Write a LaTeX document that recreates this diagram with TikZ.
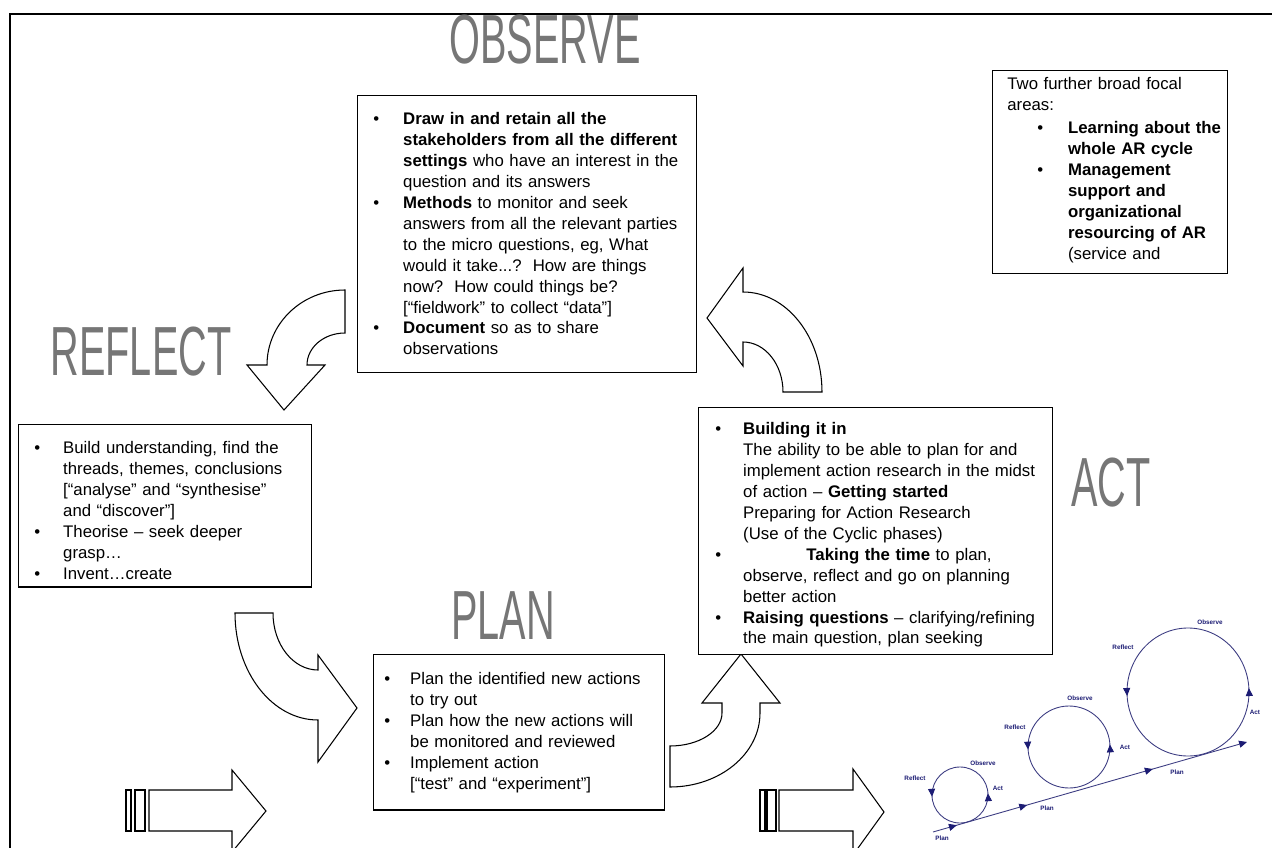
\documentclass[tikz,border=0pt]{standalone}
\usepackage{fontspec}
\setmainfont{Liberation Sans}
\newfontfamily\titlefont[FakeStretch=0.57]{Liberation Sans}
\usetikzlibrary{arrows.meta,decorations.markings}
\definecolor{cyclenavy}{HTML}{1C1C74}
\definecolor{cycleline}{HTML}{3C3C82}
\definecolor{titlegray}{HTML}{767676}
\newdimen\pxu \pxu=0.5669pt
% bullet list: #1 bullet centre, #2 text start (px from node edge)
\newenvironment{panellist}[2]{%
  \begin{list}{\textbullet}{%
    \setlength{\leftmargin}{#2\pxu}%
    \setlength{\labelwidth}{3.4pt}%
    \setlength{\labelsep}{\dimexpr #2\pxu-#1\pxu-1.7pt\relax}%
    \setlength{\itemsep}{0pt}\setlength{\parsep}{0pt}%
    \setlength{\topsep}{0pt}\setlength{\partopsep}{0pt}%
    \setlength{\itemindent}{0pt}\setlength{\rightmargin}{0pt}}}%
  {\end{list}}

\begin{document}
\begin{tikzpicture}[x=0.02cm,y=-0.02cm,
    font=\fontsize{9.55}{11.9}\selectfont,
    panel/.style={draw=black,line width=0.7pt,fill=white,inner sep=0pt,anchor=north west},
    paneltext/.style={inner sep=0pt,anchor=base west,align=left,text=black},
    phase/.style={font=\titlefont\fontsize{39.6}{40}\selectfont,text=titlegray,inner sep=0pt},
    bentarrow/.style={draw=black,line width=0.6pt,fill=white},
    blockarrow/.style={draw=black,line width=0.6pt,fill=white},
    ring/.style={draw=cycleline,line width=0.5pt,postaction={decorate},
      decoration={markings,
        mark=at position 0.01 with {\arrow{Triangle[length=4.5pt,width=4pt,color=cyclenavy]}},
        mark=at position 0.51 with {\arrow{Triangle[length=4.5pt,width=4pt,color=cyclenavy]}}}},
    planline/.style={draw=cycleline,line width=0.5pt,-{Triangle[length=4.5pt,width=4pt,color=cyclenavy]},
      postaction={decorate},
      decoration={markings,
        mark=at position 0.076 with {\arrow{Triangle[length=4.5pt,width=4pt,color=cyclenavy]}},
        mark=at position 0.30 with {\arrow{Triangle[length=4.5pt,width=4pt,color=cyclenavy]}},
        mark=at position 0.70 with {\arrow{Triangle[length=4.5pt,width=4pt,color=cyclenavy]}}}},
    tag/.style={font=\fontsize{3.6}{4}\selectfont\bfseries,text=cyclenavy,inner sep=0pt}
  ]
  \fill[white] (0,0) rectangle (1272,848);
  \useasboundingbox (0,0) rectangle (1272,848);
  \draw[line width=1pt] (10,848) -- (10,14) -- (1272,14);

  % phase titles
  \node[phase] (observe) at (545,40) {OBSERVE};
  \node[phase] (reflect) at (141,352) {REFLECT};
  \node[phase] (plan) at (503,616) {PLAN};
  \node[phase] (act) at (1111,483) {ACT};

  % bent arrows round the cycle
  \draw[bentarrow] (345,290) arc[start angle=270,end angle=180,x radius=78,y radius=75]
    -- (247,365) -- (284,410) -- (325,365) -- (307,365)
    arc[start angle=180,end angle=270,x radius=38,y radius=32] -- cycle;
  \draw[bentarrow] (235,613) arc[start angle=180,end angle=90,x radius=83,y radius=107]
    -- (318,762) -- (357,708) -- (318,655) -- (318,670)
    arc[start angle=90,end angle=180,x radius=45,y radius=57] -- cycle;
  \draw[bentarrow] (670,787) arc[start angle=90,end angle=0,x radius=90,y radius=74]
    -- (760,703) -- (780,703) -- (741,654) -- (702,703) -- (722,703) -- (722,713)
    arc[start angle=0,end angle=90,x radius=52,y radius=33] -- cycle;
  \draw[bentarrow] (822,392) arc[start angle=0,end angle=-90,x radius=79,y radius=100]
    -- (743,268) -- (707,318) -- (743,366) -- (743,342)
    arc[start angle=-90,end angle=0,x radius=40,y radius=50] -- cycle;

  % striped block arrows
  \draw[blockarrow] (126,790) rectangle (131,831);
  \draw[blockarrow] (135,790) rectangle (145,831);
  \draw[blockarrow] (149,790) -- (232,790) -- (232,770) -- (266,811) -- (232,852) -- (232,831) -- (149,831) -- cycle;
  \draw[blockarrow] (760,790) rectangle (765,831);
  \draw[blockarrow] (767,790) rectangle (776,831);
  \draw[blockarrow] (779,790) -- (853,790) -- (853,769) -- (884,812) -- (853,855) -- (853,831) -- (779,831) -- cycle;

  % observe
  \node[panel,minimum width=340\pxu,minimum height=278\pxu] (obsbox) at (357,95) {};
  \node[paneltext,text width=360\pxu] (obstext) at (357,104) {%
    \begin{panellist}{19}{46}
    \item \textbf{Draw in and retain all the}\\
      \textbf{stakeholders from all the different}\\
      \textbf{settings} who have an interest in the\\
      question and its answers
    \item \textbf{Methods} to monitor and seek\\
      answers from all the relevant parties\\
      to the micro questions, eg, What\\
      would it take...?\ \ How are things\\
      now?\ \ How could things be?\\
      {[}“fieldwork” to collect “data”{]}
    \item \textbf{Document} so as to share\\
      observations
    \end{panellist}};

  % reflect
  \node[panel,minimum width=294\pxu,minimum height=163\pxu] (refbox) at (18,424) {};
  \node[paneltext,text width=320\pxu] (reftext) at (18,433) {%
    \begin{panellist}{19}{45}
    \item Build understanding, find the\\
      threads, themes, conclusions\\
      {[}“analyse” and “synthesise”\\
      and “discover”{]}
    \item Theorise – seek deeper\\
      grasp…
    \item Invent…create
    \end{panellist}};

  % plan
  \node[panel,minimum width=292\pxu,minimum height=156\pxu] (planbox) at (373,654) {};
  \node[paneltext,text width=320\pxu] (plantext) at (373,664) {%
    \begin{panellist}{14}{37}
    \item Plan the identified new actions\\
      to try out
    \item Plan how the new actions will\\
      be monitored and reviewed
    \item Implement action\\
      {[}“test” and “experiment”{]}
    \end{panellist}};

  % act
  \node[panel,minimum width=355\pxu,minimum height=248\pxu] (actbox) at (698,407) {};
  \node[paneltext,text width=380\pxu] (acttext) at (698,414) {%
    \begin{panellist}{20}{45}
    \item \textbf{Building it in}\\
      The ability to be able to plan for and\\
      implement action research in the midst\\
      of action – \textbf{Getting started}\\
      Preparing for Action Research\\
      (Use of the Cyclic phases)
    \item \hspace*{36pt}\textbf{Taking the time} to plan,\\
      observe, reflect and go on planning\\
      better action
    \item \textbf{Raising questions} – clarifying/refining\\
      the main question, plan seeking
    \end{panellist}};

  % further focal areas
  \node[panel,minimum width=236\pxu,minimum height=204\pxu] (focusbox) at (992,70) {};
  \node[paneltext,text width=250\pxu] (focustext) at (1007,90) {%
    Two further broad focal\\areas:\par\vspace{1.2pt}
    \begin{panellist}{33}{61}
    \item \textbf{Learning about the}\\
      \textbf{whole AR cycle}
    \item \textbf{Management}\\
      \textbf{support and}\\
      \textbf{organizational}\\
      \textbf{resourcing of AR}\\
      (service and
    \end{panellist}};

  % growing action research spiral
  \coordinate (ring1) at (960,795);
  \coordinate (ring2) at (1069,747);
  \coordinate (ring3) at (1188,692);
  \draw[ring] (ring1) ++(-28,0) arc[start angle=180,end angle=-180,radius=28];
  \draw[ring] (ring2) ++(-41,0) arc[start angle=180,end angle=-180,radius=41];
  \draw[ring] (ring3) ++(-61,0) arc[start angle=180,end angle=-180,x radius=61,y radius=64];
  \coordinate (planstart) at (933,832);
  \coordinate (planend) at (1247,742);
  \draw[planline] (planstart) -- (planend);

  \node[tag] (reflect1) at (915,778) {Reflect};
  \node[tag] (observe1) at (983,763) {Observe};
  \node[tag] (act1) at (998,788) {Act};
  \node[tag] (plan1) at (942,838) {Plan};
  \node[tag] (reflect2) at (1015,727) {Reflect};
  \node[tag] (observe2) at (1080,698) {Observe};
  \node[tag] (act2) at (1125,747) {Act};
  \node[tag] (plan2) at (1047,808) {Plan};
  \node[tag] (reflect3) at (1123,647) {Reflect};
  \node[tag] (observe3) at (1210,622) {Observe};
  \node[tag] (act3) at (1255,712) {Act};
  \node[tag] (plan3) at (1177,772) {Plan};
\end{tikzpicture}
\end{document}
